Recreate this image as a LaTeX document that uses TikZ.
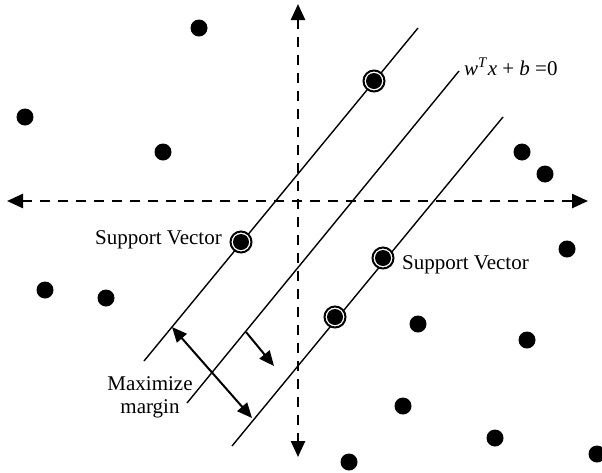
\documentclass[tikz,border=0pt]{standalone}
\usepackage{fontspec}
\setmainfont{Liberation Serif}
\usetikzlibrary{arrows.meta}
\begin{document}
\begin{tikzpicture}[x=1pt,y=-1pt,
  dot/.style={circle, fill=black, inner sep=0pt, minimum size=17pt},
  sv/.style={circle, draw=black, line width=2pt, fill=white, inner sep=0pt, minimum size=21pt,
    path picture={\fill[black] (path picture bounding box.center) circle (8pt);}},
  axis/.style={line width=2.5pt, dash pattern=on 10pt off 8pt,
    {Triangle[length=16pt,width=14pt]}-{Triangle[length=16pt,width=14pt]}},
  hyper/.style={line width=1.4pt},
  marrow/.style={line width=2pt},
  lbl/.style={inner sep=0pt, font=\fontsize{21}{23}\selectfont}
]
\useasboundingbox[fill=white] (0,0) rectangle (602,472);

% axes
\coordinate (axL) at (7,201);
\coordinate (axR) at (588,201);
\coordinate (axT) at (298,4);
\coordinate (axB) at (298,457);
\draw[axis] (axL) -- (axR);
\draw[axis] (axT) -- (axB);

% hyperplanes
\coordinate (l1a) at (144,361); \coordinate (l1b) at (418,28);
\coordinate (l2a) at (187,403); \coordinate (l2b) at (459,71);
\coordinate (l3a) at (232,446); \coordinate (l3b) at (503,117);
\draw[hyper] (l1a) -- (l1b);
\draw[hyper] (l2a) -- (l2b);
\draw[hyper] (l3a) -- (l3b);

% margin arrows
\coordinate (m1) at (172,327);
\coordinate (m2) at (252,418);
\draw[marrow, {Triangle[length=15pt,width=13pt]}-{Triangle[length=15pt,width=13pt]}] (m1) -- (m2);
\coordinate (n1) at (246,332);
\coordinate (n2) at (274,366);
\draw[marrow, -{Triangle[length=15pt,width=13pt]}] (n1) -- (n2);

% data points
\node[dot] (p1) at (199,28) {};
\node[dot] (p2) at (25,117) {};
\node[dot] (p3) at (163,152) {};
\node[dot] (p4) at (522,152) {};
\node[dot] (p5) at (545,174) {};
\node[dot] (p6) at (567,249) {};
\node[dot] (p7) at (45,290) {};
\node[dot] (p8) at (106,298) {};
\node[dot] (p9) at (418,324) {};
\node[dot] (p10) at (527,340) {};
\node[dot] (p11) at (403,406) {};
\node[dot] (p12) at (495,438) {};
\node[dot] (p13) at (597,454) {};
\node[dot] (p14) at (349,462) {};

% support vectors
\node[sv] (sv1) at (374,81) {};
\node[sv] (sv2) at (241,242) {};
\node[sv] (sv3) at (383,258) {};
\node[sv] (sv4) at (335,317) {};

% labels
\node[lbl, anchor=base west] (eq) at (464,75) {\textit{w}\textsuperscript{\textit{T}}\textit{x} + \textit{b} =0};
\node[lbl, anchor=base west] (svl) at (95,244) {Support Vector};
\node[lbl, anchor=base west] (svr) at (402,269) {Support Vector};
\node[lbl, align=center] (mm) at (150,397) {Maximize\\margin};
\end{tikzpicture}
\end{document}
